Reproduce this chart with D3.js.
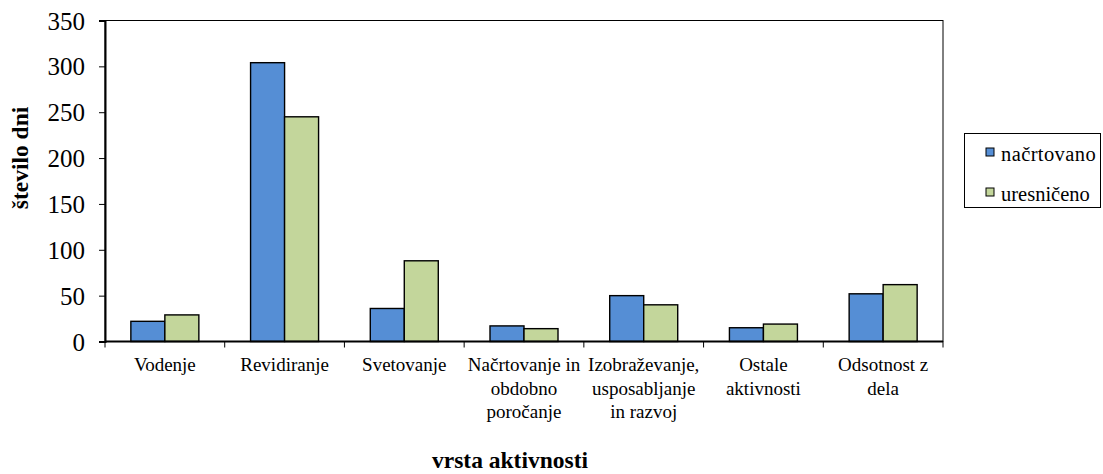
<!DOCTYPE html>
<html><head><meta charset="utf-8">
<script src="https://cdn.jsdelivr.net/npm/d3@7"></script>
<style>body{margin:0;background:#fff}svg{display:block}</style>
</head><body><svg id="c" width="1103" height="474"></svg>
<script>
const categories = [["Vodenje"],["Revidiranje"],["Svetovanje"],["Načrtovanje in","obdobno","poročanje"],["Izobraževanje,","usposabljanje","in razvoj"],["Ostale","aktivnosti"],["Odsotnost z","dela"]];
const seriesNames = ["načrtovano","uresničeno"];
const planned = [22, 304, 36, 17, 50, 15, 52];
const realized = [29, 245, 88, 14, 40, 19, 62];
const yTicks = [0,50,100,150,200,250,300,350];
const colors = ["#558ED5","#C3D69B"];
const FONT = "'Liberation Serif', 'Times New Roman', Times, 'DejaVu Serif', serif";

const svg = d3.select("#c");
const L=105,R=943,T=20.5,B=341.5;
const x = d3.scaleBand().domain(d3.range(categories.length)).range([L,R]).paddingInner(0).paddingOuter(0);
const y = d3.scaleLinear().domain([0,350]).range([B,T]);
const bw = 34;

svg.append("rect").attr("x",L).attr("y",T).attr("width",R-L).attr("height",B-T).attr("fill","none").attr("stroke","#000").attr("stroke-width",1);

const series=[planned,realized];
series.forEach((vals,si)=>{
  svg.append("g").selectAll("rect").data(vals).join("rect")
    .attr("x",(d,i)=>x(i)+x.bandwidth()/2-bw+si*bw)
    .attr("y",d=>y(d)).attr("width",bw).attr("height",d=>B-y(d))
    .attr("fill",colors[si]).attr("stroke","#000").attr("stroke-width",1.4);
});

const ya = svg.append("g").attr("transform",`translate(${L},0)`).call(d3.axisLeft(y).tickValues(yTicks).tickSize(6).tickPadding(14));
ya.attr("font-family",null);
ya.select(".domain").attr("stroke","#000").attr("stroke-width",2);
ya.selectAll(".tick line").attr("stroke","#000");
ya.selectAll("text").attr("font-size","25px").attr("font-family",FONT).attr("fill","#000").attr("dy","0.34em");
svg.append("line").attr("x1",L).attr("x2",R).attr("y1",B).attr("y2",B).attr("stroke","#000").attr("stroke-width",2);
const bounds = d3.range(categories.length+1).map(i=>L+i*x.step());
svg.append("g").selectAll("line").data(bounds).join("line")
  .attr("x1",d=>d).attr("x2",d=>d).attr("y1",B).attr("y2",B+6).attr("stroke","#000").attr("stroke-width",1);

categories.forEach((lines,i)=>{
  const t=svg.append("text").attr("text-anchor","middle").attr("font-size","19px").attr("font-family",FONT);
  lines.forEach((ln,j)=>t.append("tspan").attr("x",x(i)+x.bandwidth()/2).attr("y",371+j*23.5).text(ln));
});

svg.append("text").attr("x",510).attr("y",468).attr("text-anchor","middle").attr("font-size","23.5px").attr("font-weight","bold").attr("font-family",FONT).text("vrsta aktivnosti");
svg.append("text").attr("transform","translate(28,158) rotate(-90)").attr("text-anchor","middle").attr("font-size","23.5px").attr("font-weight","bold").attr("font-family",FONT).text("število dni");

svg.append("rect").attr("x",964.5).attr("y",133.5).attr("width",136).attr("height",74).attr("fill","#fff").attr("stroke","#000").attr("stroke-width",1);
seriesNames.forEach((n,i)=>{
  const yy=[148,188][i];
  svg.append("rect").attr("x",986).attr("y",yy).attr("width",8).attr("height",8).attr("fill",colors[i]).attr("stroke","#000").attr("stroke-width",1);
  svg.append("text").attr("x",1001).attr("y",yy+12.5).attr("font-size","20.5px").attr("letter-spacing", i===0?"0.4px":"0").attr("font-family",FONT).text(n);
});
</script></body></html>
